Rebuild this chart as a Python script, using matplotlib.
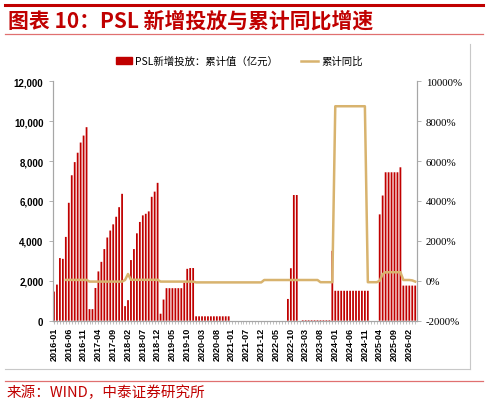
import matplotlib
matplotlib.use("Agg")
import matplotlib.pyplot as plt
from matplotlib.patches import Patch
from matplotlib.lines import Line2D
from matplotlib.ticker import FuncFormatter
import numpy as np
import pandas as pd

plt.rcParams['font.family'] = ['Noto Sans CJK SC', 'DejaVu Sans']

# monthly categories, 2021-02 is not in the series
months = [str(p) for p in pd.period_range("2016-01", "2026-04", freq="M") if str(p) != "2021-02"]

# PSL 新增投放：累计值（亿元）
psl_cum = [
    1460, 1810, 3140, 3100, 4200, 5910, 7290, 7950, 8420, 8930, 9280, 9700,   # 2016
    580, 580, 1640, 2470, 2950, 3590, 4170, 4520, 4830, 5210, 5690, 6360,     # 2017
    730, 1030, 3040, 3590, 4380, 4950, 5280, 5360, 5480, 6210, 6470, 6910,    # 2018
    350, 1060, 1630, 1630, 1630, 1630, 1630, 1630, 1900, 2600, 2640, 2640,    # 2019
    220, 220, 220, 220, 220, 220, 220, 220, 220, 220, 220, 220,               # 2020
    0, 0, 0, 0, 0, 0, 0, 0, 0, 0, 0,                                          # 2021
    0, 0, 0, 0, 0, 0, 0, 0, 1090, 2630, 6300, 6300,                           # 2022
    0, 30, 30, 30, 30, 30, 30, 30, 30, 30, 30, 3500,                          # 2023
    1500, 1500, 1500, 1500, 1500, 1500, 1500, 1500, 1500, 1500, 1500, 1500,   # 2024
    0, 0, 0, 5330, 6275, 7440, 7440, 7440, 7440, 7440, 7690, 1760,            # 2025
    1760, 1760, 1760, 1760,                                                   # 2026
]

# 累计同比 (%)
yoy = [
    np.nan, np.nan, np.nan, np.nan, 45, 45, 45, 45, 45, 45, 45, 45,
    -40, -40, -40, -40, -40, -40, -40, -40, -40, -40, -40, -40,
    40, 340, 50, 50, 50, 50, 50, 50, 50, 50, 50, 50,
    -40, -40, -40, -40, -40, -40, -40, -40, -40, -40, -40, -40,
    -80, -80, -80, -80, -80, -80, -80, -80, -80, -80, -80, -80,
    -80, -80, -80, -80, -80, -80, -80, -80, -80, -80, -80,
    40, 40, 40, 40, 40, 40, 40, 40, 40, 40, 40, 40,
    40, 40, 40, 40, 40, 40, 40, -70, -70, -70, -70, -70,
    8750, 8750, 8750, 8750, 8750, 8750, 8750, 8750, 8750, 8750, 8750, -70,
    -70, -70, -70, 0, 330, 430, 430, 430, 430, 430, 430, 40,
    40, 40, 20, -40,
]

bar_color = "#C00000"
line_color = "#D8B36E"
red_text = "#C00000"
grey = "#A6A6A6"

fig = plt.figure(figsize=(4.88, 4.06), dpi=100)
W, H = 488, 406

# header / footer decorations
fig.add_artist(Line2D([5 / W, 483 / W], [1 - 6 / H, 1 - 6 / H], color="#C00000", lw=2.2))
fig.add_artist(Line2D([5 / W, 483 / W], [1 - 35 / H, 1 - 35 / H], color="#E07070", lw=0.9))
fig.add_artist(Line2D([5 / W, 483 / W], [1 - 382 / H, 1 - 382 / H], color="#E07070", lw=0.9))
fig.add_artist(Line2D([5 / W, 470 / W], [1 - 370 / H, 1 - 370 / H], color="#C8C8C8", lw=0.8))
fig.add_artist(Line2D([470 / W, 470 / W], [1 - 370 / H, 1 - 45 / H], color="#C8C8C8", lw=0.8))

fig.text(8 / W, 1 - 21 / H, "图表 10：PSL 新增投放与累计同比增速", color=red_text,
         fontsize=15, fontweight="bold", style="italic", va="center", ha="left")
fig.text(7 / W, 1 - 393 / H, "来源：WIND，中泰证券研究所", color=red_text,
         fontsize=10.5, va="center", ha="left")

ax = fig.add_axes([52.5 / W, 1 - 321.7 / H, (416.7 - 52.5) / W, (321.7 - 82.3) / H])
x = np.arange(len(months))
ax.bar(x, psl_cum, width=0.6, color=bar_color, linewidth=0, snap=False, zorder=2)
ax.set_ylim(0, 12000)
ax.set_xlim(-0.5, len(months) - 0.5)
ax.set_yticks(range(0, 12001, 2000))
ax.yaxis.set_major_formatter(FuncFormatter(lambda v, p: f"{int(v):,}"))

ax2 = ax.twinx()
ax2.plot(x, yoy, color=line_color, lw=1.8, zorder=3)
ax2.set_ylim(-2000, 10000)
ax2.set_yticks(range(-2000, 10001, 2000))
ax2.yaxis.set_major_formatter(FuncFormatter(lambda v, p: f"{int(v)}%"))

ax.set_xticks(x)
ax.set_xticklabels([m if i % 5 == 0 else "" for i, m in enumerate(months)],
                   rotation=90, fontsize=6.5, fontweight="bold", family="Liberation Sans")
ax.tick_params(axis="x", length=2.5, width=0.5, color=grey, pad=2)
ax.tick_params(axis="y", length=3, width=0.6, color=grey, labelsize=7)
for lab in ax.get_yticklabels():
    lab.set_family("Liberation Sans")
    lab.set_fontweight("bold")
ax2.tick_params(axis="y", length=3, width=0.6, color=grey, labelsize=7.8)
for lab in ax2.get_yticklabels():
    lab.set_family("Liberation Serif")

for a in (ax, ax2):
    a.spines["top"].set_visible(False)
    for s in ("left", "right", "bottom"):
        a.spines[s].set_color(grey)
        a.spines[s].set_linewidth(0.8)

handles = [Patch(color=bar_color), Line2D([], [], color=line_color, lw=1.8)]
labels = ["PSL新增投放：累计值（亿元）", "累计同比"]
fig.legend(handles, labels, loc="center", bbox_to_anchor=(239 / W, 1 - 62 / H), ncol=2,
           frameon=False, fontsize=7.5, handlelength=1.6, handleheight=0.6,
           columnspacing=2.2, handletextpad=0.3)

fig.savefig("out.png", dpi=100)
